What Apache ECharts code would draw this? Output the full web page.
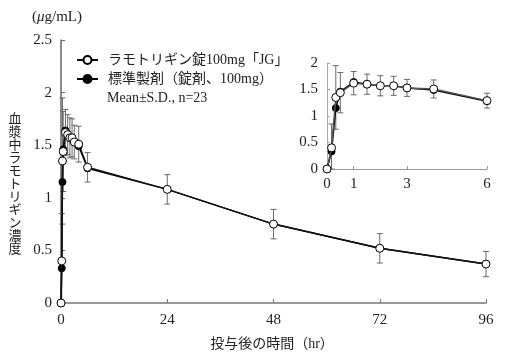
<!DOCTYPE html>
<html><head><meta charset="utf-8">
<script src="https://cdn.jsdelivr.net/npm/echarts@6/dist/echarts.min.js"></script>
<style>html,body{margin:0;padding:0;background:#fff}#c{width:508px;height:360px}</style>
</head><body><div id="c"></div>
<script>
const times = [0, 0.17, 0.33, 0.5, 1, 1.5, 2, 2.5, 3, 4, 6, 24, 48, 72, 96];
const jgMean = [0, 0.40, 1.35, 1.44, 1.62, 1.60, 1.57, 1.57, 1.53, 1.51, 1.29, 1.08, 0.75, 0.52, 0.37];
const jgSD = [0, 0.45, 0.60, 0.38, 0.22, 0.19, 0.19, 0.18, 0.16, 0.17, 0.14, 0.14, 0.14, 0.14, 0.12];
const refMean = [0, 0.33, 1.15, 1.46, 1.64, 1.60, 1.57, 1.57, 1.53, 1.49, 1.28, 1.08, 0.75, 0.52, 0.37];
const seriesNames = ['ラモトリギン錠100mg「JG」', '標準製剤（錠剤、100mg）'];
const mainXTicks = [0, 24, 48, 72, 96];
const insetXTicks = [0, 1, 3, 6];
const insetMaxT = 6;
const yTitle = '血漿中ラモトリギン濃度';

const FONT = '"Liberation Serif", "Noto Sans CJK JP", serif';
const jgData = times.map((t, i) => [t, jgMean[i]]);
const refData = times.map((t, i) => [t, refMean[i]]);
const errData = times.map((t, i) => [t, Math.max(0, jgMean[i] - jgSD[i]), jgMean[i] + jgSD[i]]);
const inset = arr => arr.filter(d => d[0] <= insetMaxT);

function errRender(params, api) {
  const x = api.value(0), lo = api.value(1), hi = api.value(2);
  if (hi - lo <= 0) return;
  const p1 = api.coord([x, hi]), p2 = api.coord([x, lo]);
  const w = 3, st = {stroke: '#6a6a6a', lineWidth: 1};
  return {type: 'group', children: [
    {type: 'line', shape: {x1: p1[0], y1: p1[1], x2: p2[0], y2: p2[1]}, style: st},
    {type: 'line', shape: {x1: p1[0]-w, y1: p1[1], x2: p1[0]+w, y2: p1[1]}, style: st},
    {type: 'line', shape: {x1: p2[0]-w, y1: p2[1], x2: p2[0]+w, y2: p2[1]}, style: st}
  ]};
}

const titleChars = yTitle.split('').map((ch, i) => ({
  type: 'text', x: 15, y: 118 + i * 13,
  style: {text: ch, fill: '#222', fontFamily: '"Noto Sans CJK JP"', fontSize: 13,
          align: 'center', verticalAlign: 'middle'}
}));

const axisLbl = {color: '#222', fontFamily: FONT, fontSize: 15};
const chart = echarts.init(document.getElementById('c'));
chart.setOption({
  animation: false,
  grid: [
    {left: 61, right: 22, top: 40, bottom: 57},
    {left: 327, width: 160, top: 63, height: 106}
  ],
  xAxis: [
    {gridIndex: 0, type: 'value', min: 0, max: 96, interval: 24,
     axisLine: {lineStyle: {color: '#777', width: 1.5}},
     axisTick: {inside: true, length: 4, lineStyle: {color: '#777'}},
     axisLabel: Object.assign({margin: 10, customValues: mainXTicks}, axisLbl),
     splitLine: {show: false}},
    {gridIndex: 1, type: 'value', min: 0, max: 6, interval: 1,
     axisLine: {lineStyle: {color: '#999', width: 1}},
     axisTick: {inside: true, length: 3, customValues: insetXTicks, lineStyle: {color: '#999'}},
     axisLabel: Object.assign({margin: 8, customValues: insetXTicks}, axisLbl),
     splitLine: {show: false}}
  ],
  yAxis: [
    {gridIndex: 0, type: 'value', min: 0, max: 2.5, interval: 0.5,
     axisLine: {show: true, lineStyle: {color: '#666', width: 1.5}},
     axisTick: {show: true, inside: true, length: 4, lineStyle: {color: '#666'}},
     axisLabel: Object.assign({margin: 9}, axisLbl),
     splitLine: {show: false}},
    {gridIndex: 1, type: 'value', min: 0, max: 2, interval: 0.5,
     axisLine: {show: true, lineStyle: {color: '#aaa', width: 1}},
     axisTick: {show: true, inside: true, length: 3, lineStyle: {color: '#aaa'}},
     axisLabel: Object.assign({margin: 9}, axisLbl),
     splitLine: {show: false}}
  ],
  legend: {
    left: 76, top: 52, orient: 'vertical', itemWidth: 21, itemHeight: 10, itemGap: 3, padding: 0,
    data: seriesNames,
    textStyle: {color: '#222', fontFamily: FONT, fontSize: 14, lineHeight: 16, padding: [0, 0, 0, 5]}
  },
  series: [
    {type: 'custom', xAxisIndex: 0, yAxisIndex: 0, renderItem: errRender, data: errData, z: 1, silent: true},
    {name: seriesNames[1], type: 'line', xAxisIndex: 0, yAxisIndex: 0, data: refData, z: 2,
     symbol: 'circle', symbolSize: 7, showAllSymbol: true,
     lineStyle: {color: '#000', width: 1.5}, itemStyle: {color: '#000', borderColor: '#000', borderWidth: 1}},
    {name: seriesNames[0], type: 'line', xAxisIndex: 0, yAxisIndex: 0, data: jgData, z: 3,
     symbol: 'circle', symbolSize: 8, showAllSymbol: true,
     lineStyle: {color: '#111', width: 1.5}, itemStyle: {color: '#fff', borderColor: '#000', borderWidth: 1}},
    {type: 'custom', xAxisIndex: 1, yAxisIndex: 1, renderItem: errRender, data: inset(errData), z: 1, silent: true},
    {name: seriesNames[1], type: 'line', xAxisIndex: 1, yAxisIndex: 1, data: inset(refData), z: 2,
     symbol: 'circle', symbolSize: 7, showAllSymbol: true,
     lineStyle: {color: '#000', width: 1.5}, itemStyle: {color: '#000', borderColor: '#000', borderWidth: 1}},
    {name: seriesNames[0], type: 'line', xAxisIndex: 1, yAxisIndex: 1, data: inset(jgData), z: 3,
     symbol: 'circle', symbolSize: 8, showAllSymbol: true,
     lineStyle: {color: '#555', width: 1.5}, itemStyle: {color: '#fff', borderColor: '#000', borderWidth: 1}}
  ],
  graphic: [
    {type: 'text', x: 107, y: 98, style: {text: 'Mean±S.D., n=23', fill: '#222',
      fontFamily: FONT, fontSize: 14, verticalAlign: 'middle'}},
    {type: 'text', x: 32, y: 17, style: {
      text: '({i|μ}g/mL)', fill: '#222', fontFamily: FONT, fontSize: 15, verticalAlign: 'middle',
      rich: {i: {fontStyle: 'italic', fontFamily: FONT, fontSize: 15, fill: '#222'}}}},
    {type: 'text', x: 272, y: 344, style: {
      text: '投与後の時間（hr）', fill: '#222', fontFamily: FONT, fontSize: 14, align: 'center', verticalAlign: 'middle'}}
  ].concat(titleChars)
});
</script></body></html>
